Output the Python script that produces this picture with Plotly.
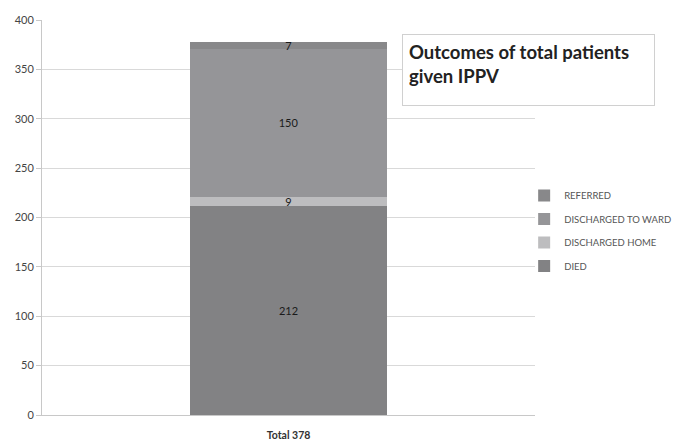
import plotly.graph_objects as go

categories = ["Total 378"]
series_names = ["DIED", "DISCHARGED HOME", "DISCHARGED TO WARD", "REFERRED"]
died = [212]
discharged_home = [9]
discharged_ward = [150]
referred = [7]
colors = ["#828284", "#bdbdbf", "#959598", "#88888a"]
y_ticks = [0, 50, 100, 150, 200, 250, 300, 350, 400]

values = [died, discharged_home, discharged_ward, referred]

fig = go.Figure()
n = len(series_names)
for i, (name, vals, col) in enumerate(zip(series_names, values, colors)):
    fig.add_trace(go.Bar(
        x=categories, y=vals, name=name, marker=dict(color=col, line=dict(width=0)),
        text=[str(v) for v in vals], textposition="inside", insidetextanchor="middle",
        constraintext="none", textangle=0,
        textfont=dict(family="Lato, sans-serif", size=11, color="#1a1a1a"),
        legendgroup=name, legendrank=1000 + (n - i),
    ))

# page body has an 8px default margin, so the figure is 8px smaller each way
fig.update_layout(
    barmode="stack", bargap=0.6,
    width=674, height=433,
    margin=dict(l=34, r=147, t=12, b=26, autoexpand=False),
    paper_bgcolor="white", plot_bgcolor="white",
    font=dict(family="Lato, sans-serif", size=11, color="#444444"),
    uniformtext=dict(mode="show", minsize=10),
    legend=dict(x=0.978, y=0.466, xanchor="left", yanchor="middle",
                traceorder="grouped", tracegroupgap=4.5, bgcolor="rgba(0,0,0,0)",
                font=dict(size=9.5, color="#555555"), itemwidth=30),
    xaxis=dict(showline=True, linecolor="#c8c8c8", linewidth=1,
               tickfont=dict(size=10.5, color="#333333", family="Lato, sans-serif"),
               ticks="", showgrid=False, ticklabelstandoff=10),
    yaxis=dict(range=[0, 400], tickvals=y_ticks, showgrid=True, gridcolor="#d9d9d9",
               showline=True, linecolor="#c8c8c8", ticks="outside", ticklen=5,
               tickcolor="#c8c8c8", zeroline=False,
               tickfont=dict(size=11, color="#444444")),
    annotations=[dict(
        x=0.7302, y=0.9646, xref="paper", yref="paper", xanchor="left", yanchor="top",
        text="<b>Outcomes of total patients<br>given IPPV</b>", showarrow=False,
        align="left", valign="top", width=239, height=58, borderpad=6,
        bordercolor="#d0d0d0", borderwidth=1, bgcolor="white",
        font=dict(family="Lato, sans-serif", size=18.5, color="#222222"),
    )],
)
fig.update_xaxes(tickprefix="<b>", ticksuffix="</b>")

fig.write_html("out.html")
